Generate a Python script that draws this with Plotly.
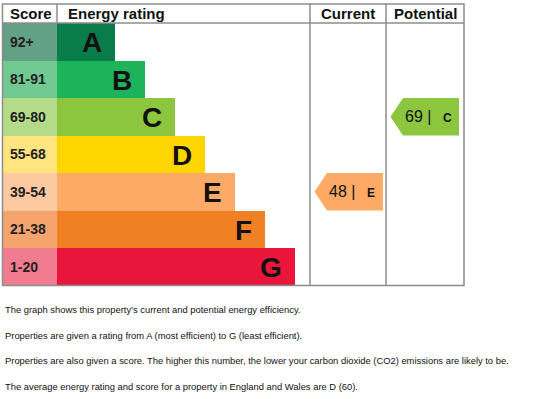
import plotly.graph_objects as go

# ---------------- data ----------------
bands = ["A", "B", "C", "D", "E", "F", "G"]
score_ranges = ["92+", "81-91", "69-80", "55-68", "39-54", "21-38", "1-20"]
band_min = [92, 81, 69, 55, 39, 21, 1]
bar_colors = ["#0a7c4a", "#1db35a", "#8cc63f", "#ffd500", "#fcaa65", "#ef8023", "#e9153b"]
score_colors = ["#62a185", "#71c992", "#b4dc88", "#ffe47f", "#fdc9a0", "#f5a46e", "#f17c8f"]
current_score = 48
potential_score = 69
headers = ["Score", "Energy rating", "Current", "Potential"]
notes = [
    "The graph shows this property\u2019s current and potential energy efficiency.",
    "Properties are given a rating from A (most efficient) to G (least efficient).",
    "Properties are also given a score. The higher this number, the lower your carbon dioxide (CO2) emissions are likely to be.",
    "The average energy rating and score for a property in England and Wales are D (60).",
]

# ---------------- layout constants (page pixels) ----------------
W, H = 543, 399
X_L, X_S, X_C, X_P, X_R = 2.5, 57, 310, 386, 464
Y_T, Y_H, Y_B = 4, 23, 285.5
ROW_H = (Y_B - Y_H) / len(bands)
BAR_MIN, BAR_STEP = 58, 30
ARROW_W, ARROW_TIP = 68.5, 12.5
GRID = "#8c8c8c"
FONT = "Arial, Liberation Sans, sans-serif"

centers = [Y_H + ROW_H * (i + 0.5) for i in range(len(bands))]
lengths = [BAR_MIN + BAR_STEP * i for i in range(len(bands))]

fig = go.Figure()

# score cells
fig.add_trace(go.Bar(
    orientation="h", y=centers, x=[X_S - X_L] * len(bands), base=X_L,
    width=ROW_H, marker=dict(color=score_colors, line_width=0),
    hoverinfo="skip", showlegend=False))
# rating bars
fig.add_trace(go.Bar(
    orientation="h", y=centers, x=lengths, base=X_S,
    width=ROW_H, marker=dict(color=bar_colors, line_width=0),
    hoverinfo="skip", showlegend=False))

annotations = []
for i, b in enumerate(bands):
    annotations.append(dict(x=X_S + lengths[i] - 11, y=centers[i] + 1, text="<b>%s</b>" % b,
                            xanchor="right", yanchor="middle", showarrow=False,
                            font=dict(family=FONT, size=28, color="#111")))
    annotations.append(dict(x=8, y=centers[i], text="<b>%s</b>" % score_ranges[i],
                            xanchor="left", yanchor="middle", showarrow=False,
                            font=dict(family=FONT, size=14, color="#222")))


def band_index(score):
    for i, m in enumerate(band_min):
        if score >= m:
            return i
    return len(band_min) - 1


def add_arrow(score, col_left):
    i = band_index(score)
    top, bot = Y_H + ROW_H * i, Y_H + ROW_H * (i + 1)
    mid = (top + bot) / 2
    tip = col_left + 4.5
    right = tip + ARROW_W
    xs = [tip, tip + ARROW_TIP, right, right, tip + ARROW_TIP, tip]
    ys = [mid, top, top, bot, bot, mid]
    fig.add_trace(go.Scatter(x=xs, y=ys, fill="toself", fillcolor=bar_colors[i],
                             mode="lines", line=dict(width=0, color=bar_colors[i]),
                             hoverinfo="skip", showlegend=False))
    annotations.append(dict(x=tip + 12.5, y=mid, text="%d |" % score,
                            xanchor="left", yanchor="middle", showarrow=False,
                            font=dict(family=FONT, size=16, color="#111")))
    annotations.append(dict(x=tip + 50.5, y=mid + 1, text="<b>%s</b>" % bands[i],
                            xanchor="left", yanchor="middle", showarrow=False,
                            font=dict(family=FONT, size=12, color="#111")))


add_arrow(current_score, X_C)
add_arrow(potential_score, X_P)

# headers
hy = (Y_T + Y_H) / 2
annotations.append(dict(x=8, y=hy, text="<b>%s</b>" % headers[0], xanchor="left", yanchor="middle",
                        showarrow=False, font=dict(family=FONT, size=15, color="#111")))
annotations.append(dict(x=66, y=hy, text="<b>%s</b>" % headers[1], xanchor="left", yanchor="middle",
                        showarrow=False, font=dict(family=FONT, size=15, color="#111")))
annotations.append(dict(x=(X_C + X_P) / 2, y=hy, text="<b>%s</b>" % headers[2], xanchor="center",
                        yanchor="middle", showarrow=False, font=dict(family=FONT, size=15, color="#111")))
annotations.append(dict(x=(X_P + X_R) / 2, y=hy, text="<b>%s</b>" % headers[3], xanchor="center",
                        yanchor="middle", showarrow=False, font=dict(family=FONT, size=15, color="#111")))

# notes
note_y = [309, 335, 360.5, 386]
for t, y in zip(notes, note_y):
    annotations.append(dict(x=3, y=y, text=t, xanchor="left", yanchor="middle", showarrow=False,
                            font=dict(family=FONT, size=9.4, color="#111")))

# grid lines
shapes = [
    dict(type="rect", x0=X_L, x1=X_R, y0=Y_T, y1=Y_B, line=dict(color=GRID, width=1.5)),
    dict(type="line", x0=X_L, x1=X_R, y0=Y_H, y1=Y_H, line=dict(color=GRID, width=1.5)),
    dict(type="line", x0=X_S, x1=X_S, y0=Y_T, y1=Y_H, line=dict(color=GRID, width=1.5)),
    dict(type="line", x0=X_C, x1=X_C, y0=Y_T, y1=Y_B, line=dict(color=GRID, width=1.5)),
    dict(type="line", x0=X_P, x1=X_P, y0=Y_T, y1=Y_B, line=dict(color=GRID, width=1.5)),
]

fig.update_layout(
    width=W, height=H, margin=dict(l=0, r=0, t=0, b=0),
    paper_bgcolor="white", plot_bgcolor="white",
    barmode="overlay", bargap=0,
    xaxis=dict(range=[0, W], visible=False, fixedrange=True),
    yaxis=dict(range=[H, 0], visible=False, fixedrange=True),
    annotations=annotations, shapes=shapes,
)

fig.write_html("out.html", config={"displayModeBar": False},
               post_script="document.body.style.margin='0';document.body.style.overflow='hidden';")
